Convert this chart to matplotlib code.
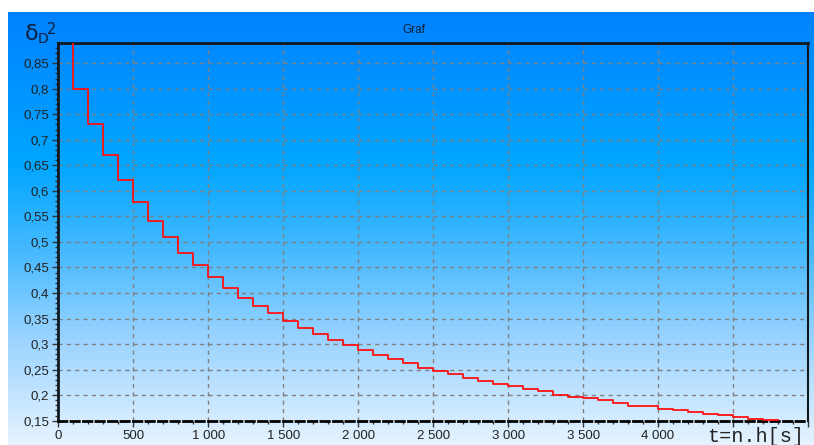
import numpy as np
import matplotlib
matplotlib.use("Agg")
import matplotlib.pyplot as plt
from matplotlib.colors import LinearSegmentedColormap
from matplotlib.ticker import MultipleLocator, FuncFormatter

# čas t = n.h [s] a hodnoty delta_D^2
t = [0, 100, 200, 300, 400, 500, 600, 700, 800, 900,
     1000, 1100, 1200, 1300, 1400, 1500, 1600, 1700, 1800, 1900,
     2000, 2100, 2200, 2300, 2400, 2500, 2600, 2700, 2800, 2900,
     3000, 3100, 3200, 3300, 3400, 3500, 3600, 3700, 3800, 3900,
     4000, 4100, 4200, 4300, 4400, 4500, 4600, 4700, 4800]
delta2 = [1.0, 0.80, 0.73, 0.67, 0.622, 0.578, 0.541, 0.509, 0.479, 0.454,
          0.431, 0.410, 0.391, 0.375, 0.361, 0.346, 0.332, 0.320, 0.309, 0.298,
          0.288, 0.279, 0.270, 0.263, 0.254, 0.248, 0.241, 0.233, 0.228, 0.222,
          0.217, 0.212, 0.208, 0.201, 0.197, 0.194, 0.190, 0.185, 0.179, 0.178,
          0.173, 0.170, 0.167, 0.164, 0.161, 0.157, 0.154, 0.151, 0.151]

W, H = 814, 445
fig = plt.figure(figsize=(W / 100, H / 100), dpi=100)
fig.patch.set_facecolor("white")

# pozadí s přechodem
bg = fig.add_axes([0, 0, 1, 1], zorder=-10)
bg.set_xlim(0, W)
bg.set_ylim(H, 0)
bg.axis("off")
cmap = LinearSegmentedColormap.from_list("bg", [
    (0.0, "#0082ff"),
    (0.35, "#00a6ff"),
    (0.55, "#45b9ff"),
    (0.75, "#98d3ff"),
    (1.0, "#e6f3ff"),
])
grad = np.linspace(0, 1, 256).reshape(-1, 1)
bg.imshow(grad, cmap=cmap, aspect="auto", extent=[8, W, H, 12])

# hlavní graf
ax = fig.add_axes([58.3 / W, 24.3 / H, (808 - 58.3) / W, 377.4 / H])
ax.set_facecolor("none")
ax.plot(t, delta2, drawstyle="steps-post", color="#ff1010", lw=1.3, zorder=3)

ax.set_xlim(0, 5000)
ax.set_ylim(0.15, 0.889)

ax.xaxis.set_major_locator(MultipleLocator(500))
ax.xaxis.set_minor_locator(MultipleLocator(100))
ax.yaxis.set_major_locator(MultipleLocator(0.05))
ax.yaxis.set_minor_locator(MultipleLocator(0.01))


def fmt_x(v, pos):
    if v > 4100:
        return ""
    return f"{int(round(v)):,}".replace(",", " ")


def fmt_y(v, pos):
    if v > 0.87:
        return ""
    s = f"{v:.2f}".rstrip("0")
    return s.replace(".", ",")


ax.xaxis.set_major_formatter(FuncFormatter(fmt_x))
ax.yaxis.set_major_formatter(FuncFormatter(fmt_y))

ax.grid(True, which="major", color="#808080", linestyle=(0, (3, 3)), lw=1)
ax.tick_params(which="major", length=4, width=1, color="#333333",
               labelsize=9.5, pad=2.5)
ax.tick_params(which="minor", length=2, width=1, color="#333333")
for lab in ax.get_xticklabels() + ax.get_yticklabels():
    lab.set_fontfamily("Liberation Sans")
    lab.set_color("#222222")

for side in ["top", "left"]:
    ax.spines[side].set_linewidth(2)
    ax.spines[side].set_color("#101820")
ax.spines["right"].set_linewidth(1.5)
ax.spines["right"].set_color("#101820")
ax.spines["bottom"].set_linewidth(2)
ax.spines["bottom"].set_color("black")
ax.spines["bottom"].set_linestyle((0, (3, 1.5)))

# popisky
fig.text(414 / W, 1 - 30 / H, "Graf", ha="center", va="center",
         fontsize=8.5, family="Liberation Sans", color="#102030")
fig.text(25 / W, 1 - 40 / H, "δ", ha="left", va="baseline",
         fontsize=16, family="DejaVu Sans", color="#102040")
fig.text(37.5 / W, 1 - 43 / H, "D", ha="left", va="baseline",
         fontsize=10, family="DejaVu Sans", color="#102040")
fig.text(47 / W, 1 - 34 / H, "2", ha="left", va="baseline",
         fontsize=10.5, family="DejaVu Sans", color="#102040")
fig.text(707 / W, 1 - 442 / H, "t=n.h[s]", ha="left", va="baseline",
         fontsize=14.5, family="Liberation Mono", color="#222222")

fig.savefig("out.png", dpi=100)
